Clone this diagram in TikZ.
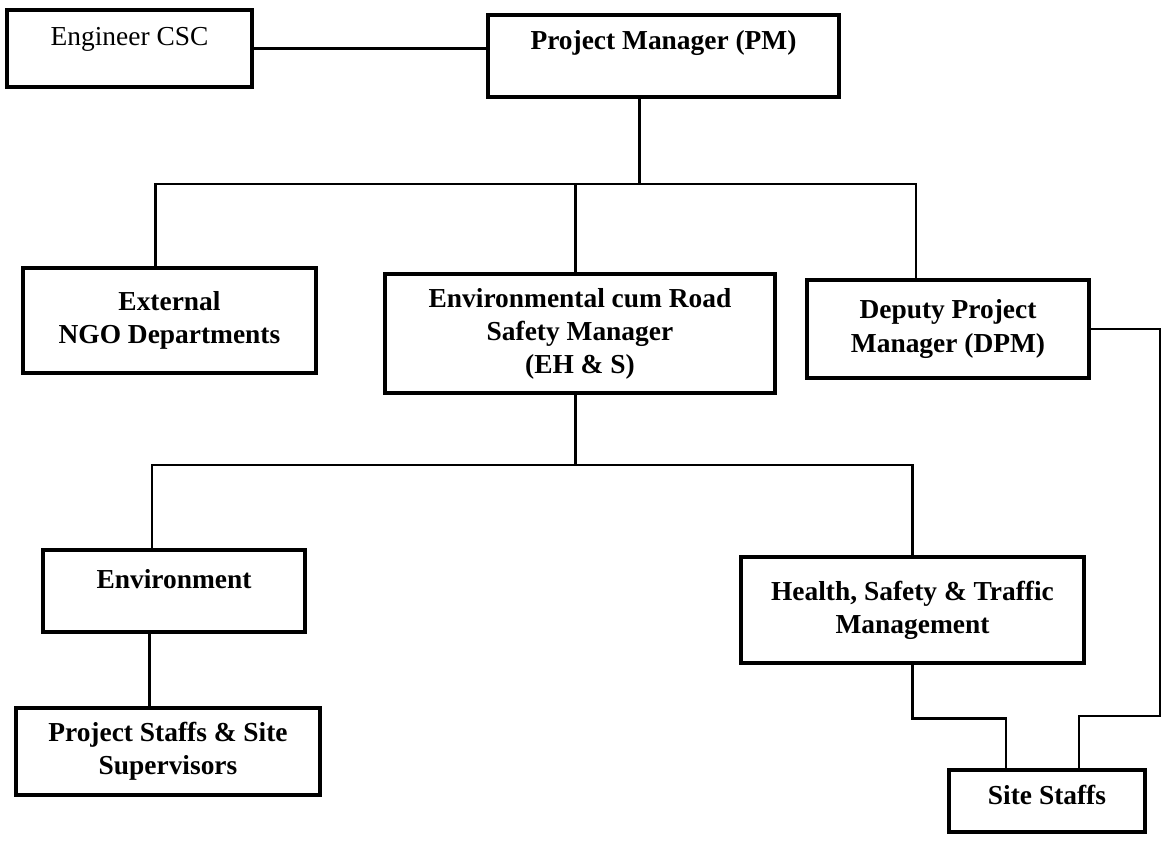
\documentclass[tikz,border=0pt]{standalone}
\usepackage{fontspec}
\setmainfont{Liberation Serif}
\usetikzlibrary{positioning, calc}

\begin{document}
\begin{tikzpicture}[x=0.025cm, y=-0.025cm,
  box/.style={rectangle, draw = black, line width = 2.4pt, align = center, inner sep = 0pt, font = \fontsize{19.5}{23.5}\selectfont\bfseries},
  link/.style={draw = black, line width = 2pt}]
\useasboundingbox (0,0) rectangle (1165,841);
\node[box, minimum width = 6.125cm, minimum height = 1.925cm, text depth = 0.6cm, font = \fontsize{19.5}{23.5}\selectfont\mdseries] (eng) at (129.5,48.5) {Engineer CSC};
\node[box, minimum width = 8.775cm, minimum height = 2.05cm, text depth = 0.8cm] (pm) at (663.5,56) {Project Manager (PM)};
\node[box, minimum width = 7.325cm, minimum height = 2.625cm] (ext) at (169.5,320.5) {External \\ NGO Departments};
\node[box, minimum width = 9.75cm, minimum height = 2.975cm] (envmgr) at (580,333.5) {Environmental cum Road \\ Safety Manager \\ (EH \& S)};
\node[box, minimum width = 7.05cm, minimum height = 2.45cm] (dpm) at (948,329) {Deputy Project \\ Manager (DPM)};
\node[box, minimum width = 6.55cm, minimum height = 2.05cm, text depth = 0.62cm] (env) at (174,591) {Environment};
\node[box, minimum width = 7.6cm, minimum height = 2.175cm] (pss) at (168,751.5) {Project Staffs \& Site \\ Supervisors};
\node[box, minimum width = 8.575cm, minimum height = 2.65cm] (hst) at (912.5,610) {Health, Safety \& Traffic \\ Management};
\node[box, minimum width = 4.9cm, minimum height = 1.55cm, text depth = 0.3cm] (site) at (1047,801) {Site Staffs};
\coordinate (bus1) at (640,184);
\coordinate (bus2) at (573,465);
\coordinate (loop) at (1160,716);
\draw[link] (eng.east) -- (eng.east -| pm.west);
\draw[link] ([xshift=-0.6cm]pm.south) -- ([xshift=-0.6cm]pm.south |- bus1);
\draw[link] ([xshift=-0.35cm]ext.north) |- (bus1) -| ([xshift=-0.8cm]dpm.north);
\draw[link] ([xshift=-0.12cm]envmgr.north) -- ([xshift=-0.12cm]envmgr.north |- bus1);
\draw[link] ([xshift=-0.12cm]envmgr.south) -- ([xshift=-0.12cm]envmgr.south |- bus2);
\draw[link] ([xshift=-0.55cm]env.north) |- (bus2) -| (hst.north);
\draw[link] ([xshift=-0.62cm]env.south) -- ([xshift=-0.62cm]env.south |- pss.north);
\draw[link] (hst.south) -- ++(0,54) -| ([xshift=-1.025cm]site.north);
\draw[link] (dpm.east) -| (loop) -| ([xshift=0.8cm]site.north);
\end{tikzpicture}
\end{document}
